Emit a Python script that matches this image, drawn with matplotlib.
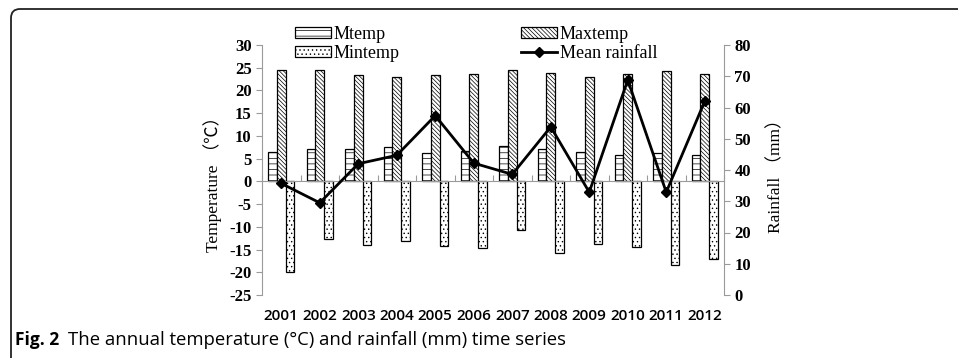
import numpy as np
import matplotlib
matplotlib.use('Agg')
import matplotlib.pyplot as plt
from matplotlib.patches import FancyBboxPatch

years = ['2001', '2002', '2003', '2004', '2005', '2006',
         '2007', '2008', '2009', '2010', '2011', '2012']
mtemp = [6.5, 7.2, 7.2, 7.5, 6.2, 6.6, 7.8, 7.2, 6.5, 5.8, 6.2, 5.8]
maxtemp = [24.6, 24.6, 23.3, 23.0, 23.4, 23.6, 24.5, 23.8, 22.9, 23.6, 24.3, 23.6]
mintemp = [-20.0, -12.6, -13.9, -13.2, -14.3, -14.6, -10.8, -15.8, -13.8, -14.5, -18.5, -17.1]
rainfall = [35.7, 29.5, 42.0, 44.7, 57.4, 42.2, 38.6, 53.8, 32.9, 68.8, 32.9, 62.0]

plt.rcParams['hatch.linewidth'] = 0.5
plt.rcParams['axes.unicode_minus'] = False
serif = 'Liberation Serif'
grey = '#9a9a9a'

fig = plt.figure(figsize=(9.58, 3.58), dpi=100)
ax = fig.add_axes([262/958, 1-295/358, 462/958, 250/358])
x = np.arange(len(years))
w = 0.226

b1 = ax.bar(x - w, mtemp, w, facecolor='white', edgecolor='black', linewidth=0.9, hatch='---', label='Mtemp')
b2 = ax.bar(x, maxtemp, w, facecolor='white', edgecolor='black', linewidth=0.9, hatch='\\\\\\\\\\\\\\\\', label='Maxtemp')
b3 = ax.bar(x + w, mintemp, w, facecolor='white', edgecolor='black', linewidth=0.9, hatch='....', label='Mintemp')

ax.set_xlim(-0.5, len(years) - 0.5)
ax.set_ylim(-25, 30)
ax.set_yticks(np.arange(-25, 31, 5))
ax.spines['top'].set_visible(False)
ax.spines['bottom'].set_position(('data', 0))
ax.spines['bottom'].set_color(grey)
ax.spines['left'].set_color(grey)
ax.spines['right'].set_visible(False)
ax.set_xticks(np.arange(-0.5, len(years), 1))
ax.tick_params(axis='x', direction='in', length=4, color=grey, labelbottom=False)
ax.tick_params(axis='y', direction='out', length=4, color=grey)
for t in ax.get_yticklabels():
    t.set_fontfamily(serif)
    t.set_fontsize(12)
    t.set_fontweight('bold')
ax.set_ylabel('Temperature （℃）', fontsize=12.5)
ax.yaxis.label.set_fontfamily([serif, 'Noto Sans CJK SC'])
ax.yaxis.set_label_coords((222 - 262) / 462, (295 - 180) / 250)

sec = ax.secondary_xaxis('bottom')
sec.spines['bottom'].set_visible(False)
sec.set_xticks(x)
sec.set_xticklabels(years, fontfamily='Open Sans', fontsize=11, fontweight='semibold')
sec.tick_params(length=0, pad=10)

ax2 = ax.twinx()
ax2.set_ylim(0, 80)
ax2.set_yticks(np.arange(0, 81, 10))
l1, = ax2.plot(x, rainfall, color='black', linewidth=2, marker='D', markersize=5, label='Mean rainfall')
for s in ['top', 'left', 'bottom']:
    ax2.spines[s].set_visible(False)
ax2.spines['right'].set_color(grey)
ax2.tick_params(axis='y', direction='out', length=4, color=grey)
for t in ax2.get_yticklabels():
    t.set_fontfamily(serif)
    t.set_fontsize(12)
    t.set_fontweight('bold')
ax2.set_ylabel('Rainfall （mm）', fontsize=12.5)
ax2.yaxis.label.set_fontfamily([serif, 'Noto Sans CJK SC'])
ax2.yaxis.set_label_coords((768 - 262) / 462, (295 - 172) / 250)

fig.legend(handles=[b1, b3, b2, l1], labels=['Mtemp', 'Mintemp', 'Maxtemp', 'Mean rainfall'],
           ncol=2, loc='upper left', bbox_to_anchor=(295/958, 1-26/358), frameon=False,
           prop={'family': serif, 'size': 13}, handlelength=2.0, handleheight=0.5,
           labelspacing=0.1, columnspacing=6.7, handletextpad=0.15, borderpad=0, borderaxespad=0)

frame = FancyBboxPatch((0.11, -1.0), 12.0, 3.49 + 1.0, boxstyle='round,pad=0,rounding_size=0.09',
                       transform=fig.dpi_scale_trans, facecolor='none', edgecolor='#222222',
                       linewidth=1.3, clip_on=False)
fig.patches.append(frame)

fig.text(15/958, 1-340/358, 'Fig. 2', fontfamily='Open Sans', fontweight='bold', fontsize=12.5, va='center')
fig.text(68/958, 1-340/358, 'The annual temperature (°C) and rainfall (mm) time series',
         fontfamily='Open Sans', fontsize=13.3, va='center')

fig.savefig('out.png', dpi=100)
